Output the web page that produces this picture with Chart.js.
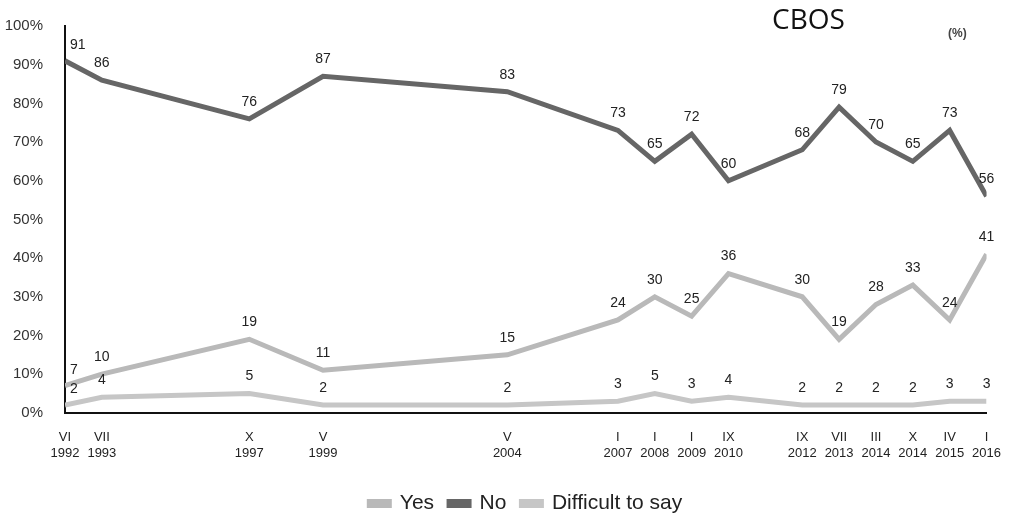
<!DOCTYPE html>
<html>
<head>
<meta charset="utf-8">
<script src="https://cdn.jsdelivr.net/npm/chart.js@4/dist/chart.umd.min.js"></script>
<style>
  html, body { margin: 0; padding: 0; background: #fff; }
  #wrap { position: relative; width: 1018px; height: 517px; }
</style>
</head>
<body>
<div id="wrap"><canvas id="c" width="1018" height="517"></canvas></div>
<script>
// Survey waves: month (Roman numeral) and year
const months = ['VI', 'VII', 'X', 'V', 'V', 'I', 'I', 'I', 'IX', 'IX', 'VII', 'III', 'X', 'IV', 'I'];
const years = ['1992', '1993', '1997', '1999', '2004', '2007', '2008', '2009', '2010', '2012', '2013', '2014', '2014', '2015', '2016'];
// Position of each wave along the timeline (one slot per year, extra slots for late waves)
const slots = [0, 1, 5, 7, 12, 15, 16, 17, 18, 20, 21, 22, 23, 24, 25];

// Answers (%)
const yesValues = [7, 10, 19, 11, 15, 24, 30, 25, 36, 30, 19, 28, 33, 24, 41];
const noValues = [91, 86, 76, 87, 83, 73, 65, 72, 60, 68, 79, 70, 65, 73, 56];
const hardValues = [2, 4, 5, 2, 2, 3, 5, 3, 4, 2, 2, 2, 2, 3, 3];

const yTicks = [0, 10, 20, 30, 40, 50, 60, 70, 80, 90, 100];

const FONT = '"Liberation Sans", Arial, sans-serif';

const pts = arr => arr.map((v, i) => ({ x: slots[i], y: v }));

// Draws the numeric value above every point
const valueLabels = {
  id: 'valueLabels',
  afterDatasetsDraw(chart) {
    const ctx = chart.ctx;
    ctx.save();
    ctx.font = '14px ' + FONT;
    ctx.fillStyle = '#222';
    ctx.textBaseline = 'middle';
    chart.data.datasets.forEach((ds, di) => {
      const meta = chart.getDatasetMeta(di);
      meta.data.forEach((el, i) => {
        const v = ds.data[i].y;
        if (i === 0) {
          ctx.textAlign = 'left';
          ctx.fillText(String(v), el.x + 5, el.y - 16);
        } else {
          ctx.textAlign = 'center';
          ctx.fillText(String(v), el.x, el.y - 17);
        }
      });
    });
    ctx.restore();
  }
};

// Heading and unit note
const heading = {
  id: 'heading',
  afterDraw(chart) {
    const ctx = chart.ctx;
    ctx.save();
    ctx.fillStyle = '#111';
    ctx.textBaseline = 'alphabetic';
    ctx.textAlign = 'left';
    ctx.font = '28px "Open Sans", "Noto Sans", sans-serif';
    ctx.fillText('CBOS', 772, 29);
    ctx.fillStyle = '#444';
    ctx.font = 'bold 12px ' + FONT;
    ctx.fillText('(%)', 948, 37);
    ctx.restore();
  }
};

new Chart(document.getElementById('c'), {
  type: 'line',
  data: {
    datasets: [
      { label: 'Yes', data: pts(yesValues), borderColor: '#b9b9b9', backgroundColor: '#b9b9b9', borderWidth: 5 },
      { label: 'No', data: pts(noValues), borderColor: '#666666', backgroundColor: '#666666', borderWidth: 5 },
      { label: 'Difficult to say', data: pts(hardValues), borderColor: '#c6c6c6', backgroundColor: '#c6c6c6', borderWidth: 5 }
    ]
  },
  options: {
    responsive: false,
    animation: false,
    layout: { padding: { left: 0, right: 6, top: 26, bottom: -7 } },
    elements: { point: { radius: 0 }, line: { tension: 0, borderJoinStyle: 'miter' } },
    plugins: {
      tooltip: { enabled: false },
      legend: {
        position: 'bottom',
        fullSize: false,
        labels: {
          color: '#222',
          font: { family: FONT, size: 21 },
          boxWidth: 20,
          boxHeight: 4,
          padding: 15
        }
      }
    },
    scales: {
      x: {
        type: 'linear',
        min: slots[0],
        max: slots[slots.length - 1],
        afterBuildTicks(scale) { scale.ticks = slots.map(v => ({ value: v })); },
        grid: { display: false, drawTicks: false },
        border: { display: true, color: '#111', width: 2 },
        ticks: {
          autoSkip: false,
          maxRotation: 0,
          padding: 17,
          color: '#222',
          font: { family: FONT, size: 13 },
          callback(value) {
            const i = slots.indexOf(value);
            return i < 0 ? '' : [months[i], years[i]];
          }
        }
      },
      y: {
        min: 0,
        max: 100,
        afterBuildTicks(scale) { scale.ticks = yTicks.map(v => ({ value: v })); },
        afterFit(scale) {
          scale.width = 65;
          scale.paddingTop = 0;
          scale.paddingBottom = 0;
        },
        grid: { display: false, drawTicks: false },
        border: { display: true, color: '#111', width: 2 },
        ticks: {
          padding: 22,
          color: '#333',
          font: { family: FONT, size: 15 },
          callback: v => v + '%'
        }
      }
    }
  },
  plugins: [valueLabels, heading]
});
</script>
</body>
</html>
